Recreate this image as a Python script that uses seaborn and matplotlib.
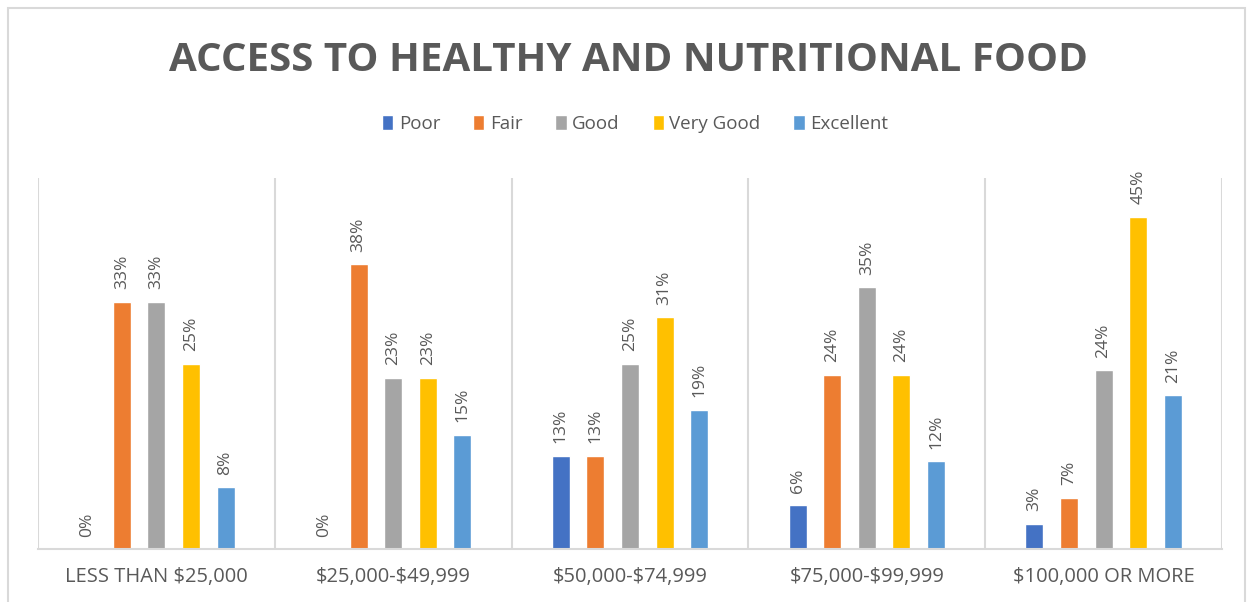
import matplotlib
matplotlib.use("Agg")
import matplotlib.pyplot as plt
from matplotlib.patches import Rectangle
import seaborn as sns
import pandas as pd

categories = ["LESS THAN $25,000", "$25,000-$49,999", "$50,000-$74,999",
              "$75,000-$99,999", "$100,000 OR MORE"]
ratings = ["Poor", "Fair", "Good", "Very Good", "Excellent"]
poor = [0.0, 0.0, 0.126, 0.059, 0.034]
fair = [0.333, 0.384, 0.126, 0.235, 0.069]
good = [0.333, 0.231, 0.25, 0.353, 0.241]
very_good = [0.25, 0.231, 0.3125, 0.235, 0.448]
excellent = [0.083, 0.154, 0.1875, 0.118, 0.207]
colors = ["#4472C4", "#ED7D31", "#A5A5A5", "#FFC000", "#5B9BD5"]

series = [poor, fair, good, very_good, excellent]
rows = []
for r, vals in zip(ratings, series):
    for c, v in zip(categories, vals):
        rows.append({"Income": c, "Rating": r, "Share": v})
df = pd.DataFrame(rows)

sns.set_theme(style="white")
plt.rcParams["font.family"] = ["Open Sans", "DejaVu Sans"]
plt.rcParams["text.parse_math"] = False
text_color = "#595959"
grid_color = "#D9D9D9"

fig = plt.figure(figsize=(12.5, 6.02), dpi=100)
ax = fig.add_axes([0.0304, 0.088, 0.9472, 0.6163])

sns.barplot(data=df, x="Income", y="Share", hue="Rating", order=categories,
            hue_order=ratings, palette=colors, width=0.73, gap=0.48,
            saturation=1.0, ax=ax, legend=True)

for cont in ax.containers:
    ax.bar_label(cont, labels=[f"{int(v*100 + 0.5)}%" for v in cont.datavalues],
                 rotation=90, padding=9, color=text_color, fontsize=12.5)

ax.set_ylim(0, 0.5)
ax.set_xlim(-0.5, len(categories) - 0.5)
ax.set_xlabel("")
ax.set_ylabel("")
ax.set_yticks([])
for s in ["top", "right", "left"]:
    ax.spines[s].set_visible(False)
ax.spines["bottom"].set_color(grid_color)
ax.spines["bottom"].set_linewidth(1.5)
for i in range(len(categories) + 1):
    ax.axvline(i - 0.5, color=grid_color, lw=1.5, zorder=0)
ax.tick_params(axis="x", length=0, pad=13, colors=text_color, labelsize=14.5)

handles, labels = ax.get_legend_handles_labels()
ax.get_legend().remove()
fig.legend(handles, labels, loc="center", bbox_to_anchor=(0.508, 0.794), ncol=5,
           frameon=False, fontsize=13.5, handlelength=0.6, handleheight=0.9,
           handletextpad=0.3, columnspacing=1.75, labelcolor=text_color)

fig.text(0.503, 0.899, "ACCESS TO HEALTHY AND NUTRITIONAL FOOD", ha="center",
         va="center", fontsize=29, fontweight="bold", color=text_color)

fig.patches.append(Rectangle((0.0064, -0.05), 0.9896, 1.0367, transform=fig.transFigure,
                             fill=False, edgecolor=grid_color, lw=1.5))

fig.savefig("out.png", dpi=100, facecolor="white")
